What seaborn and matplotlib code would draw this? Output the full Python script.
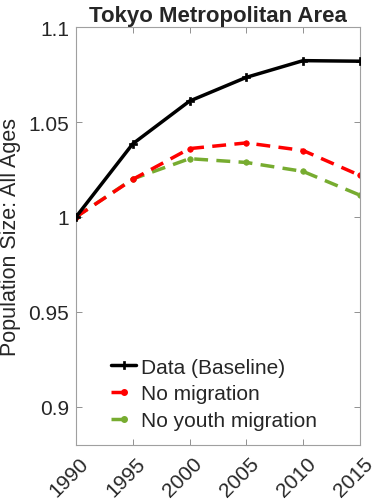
import matplotlib
matplotlib.use("Agg")
import matplotlib.pyplot as plt
import matplotlib.transforms as mtransforms
from matplotlib.lines import Line2D
import seaborn as sns
import pandas as pd

years = [1990, 1995, 2000, 2005, 2010, 2015]
baseline = [1.000, 1.0385, 1.061, 1.0735, 1.0823, 1.082]
no_migration = [1.000, 1.0198, 1.036, 1.039, 1.035, 1.0219]
no_youth_migration = [1.000, 1.020, 1.0307, 1.0287, 1.024, 1.0115]
series_names = ["Data (Baseline)", "No migration", "No youth migration"]
y_ticks = [0.9, 0.95, 1.0, 1.05, 1.1]
y_tick_labels = ["0.9", "0.95", "1", "1.05", "1.1"]

sns.set_theme(style="white")
plt.rcParams["font.family"] = ["Liberation Sans", "DejaVu Sans"]

df = pd.DataFrame({
    "year": years * 3,
    "value": baseline + no_migration + no_youth_migration,
    "series": [series_names[0]] * 6 + [series_names[1]] * 6 + [series_names[2]] * 6,
})

fig = plt.figure(figsize=(3.76, 5.02), dpi=100)
ax = fig.add_axes([0.202, 0.1116, 0.755, 0.8326])

palette = {series_names[0]: "black", series_names[1]: "#ff0000", series_names[2]: "#77ac30"}
styles = {
    series_names[0]: dict(linestyle="-", marker="P", markersize=6),
    series_names[1]: dict(linestyle=(0, (4, 2.4)), marker="o", markersize=4),
    series_names[2]: dict(linestyle=(0, (4, 2.4)), marker="o", markersize=4),
}
for name in [series_names[2], series_names[1], series_names[0]]:
    sub = df[df["series"] == name]
    sns.lineplot(data=sub, x="year", y="value", ax=ax, color=palette[name],
                 linewidth=2.5, label=name, zorder=3 if name == series_names[0] else 2,
                 markeredgecolor=palette[name], markeredgewidth=0.5, **styles[name])

ax.set_xlim(1990, 2015)
ax.set_ylim(0.88, 1.1)
ax.set_xticks(years)
ax.set_xticklabels([str(y) for y in years], fontsize=15, color="#262626")
ax.set_yticks(y_ticks)
ax.set_yticklabels(y_tick_labels, fontsize=15, color="#262626")
ax.tick_params(direction="in", length=4, width=0.6, color="#808080",
               top=True, right=True, bottom=True, left=True)
ax.tick_params(axis="y", pad=5)
ax.tick_params(axis="x", pad=6)
shift = mtransforms.ScaledTranslation(0.10, -0.07, fig.dpi_scale_trans)
for lab in ax.get_xticklabels():
    lab.set_rotation(45)
    lab.set_rotation_mode("anchor")
    lab.set_horizontalalignment("right")
    lab.set_verticalalignment("center")
    lab.set_transform(lab.get_transform() + shift)
for sp in ax.spines.values():
    sp.set_color("#a0a0a0")
    sp.set_linewidth(0.8)

ax.set_xlabel("")
ax.set_ylabel("Population Size: All Ages", fontsize=15.5, color="#262626", labelpad=5)
ax.set_title("Tokyo Metropolitan Area", fontsize=16, fontweight="bold", pad=4)

# legend keys: short line with the series marker
legend_handles = [
    Line2D([], [], color=palette[series_names[0]], linewidth=2.5, marker="P",
           markersize=6, markeredgecolor="black", markeredgewidth=0.5),
    Line2D([], [], color=palette[series_names[1]], linewidth=2.5,
           linestyle=(0, (3.6, 6)), marker="o", markersize=4,
           markeredgecolor=palette[series_names[1]]),
    Line2D([], [], color=palette[series_names[2]], linewidth=2.5,
           linestyle=(0, (3.6, 6)), marker="o", markersize=4,
           markeredgecolor=palette[series_names[2]]),
]
ax.legend(legend_handles, series_names,
          loc="lower left", bbox_to_anchor=(0.125, 0.035), frameon=False,
          fontsize=15, handlelength=1.2, handletextpad=0.2, labelspacing=0.38,
          borderaxespad=0, borderpad=0)

fig.savefig("out.png", dpi=100)
